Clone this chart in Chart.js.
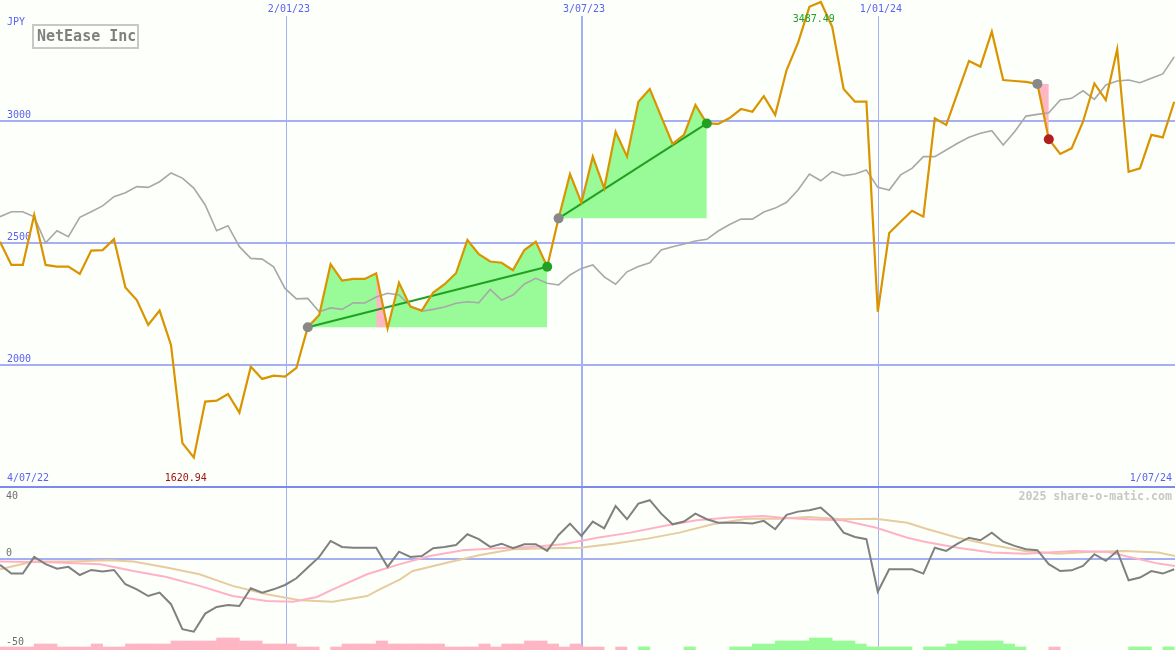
<!DOCTYPE html>
<html><head><meta charset="utf-8">
<script src="https://cdn.jsdelivr.net/npm/chart.js@4.4.1/dist/chart.umd.min.js"></script>
<style>
html,body{margin:0;padding:0;background:#fdfffa;}
#wrap{position:relative;width:1175px;height:650px;overflow:hidden;background:#fdfffa;font-family:'DejaVu Sans Mono',monospace;}
#topc{position:absolute;left:0;top:0;}
#botc{position:absolute;left:0;top:487px;}
.t{position:absolute;font-size:10px;line-height:12px;white-space:nowrap;color:#5b63ee;}
#sep{position:absolute;left:0;top:486px;width:1175px;height:2px;background:#7b8aec;}
#name{position:absolute;left:32px;top:24px;width:107px;height:25px;box-sizing:border-box;border:2px solid #c8c8c8;color:#808080;font-size:15px;font-weight:bold;line-height:21px;padding-left:3px;white-space:nowrap;}
#wm{position:absolute;right:3px;top:489px;font-size:11.6px;line-height:14px;font-weight:bold;color:#c8c8c8;white-space:nowrap;}
.g{color:#6e6e6e;}
</style></head>
<body>
<div id="wrap">
<canvas id="topc" width="1175" height="487"></canvas>
<canvas id="botc" width="1175" height="163"></canvas>
<div id="sep"></div>
<div class="t" style="left:7px;top:16px;">JPY</div>
<div id="name">NetEase Inc</div>
<div class="t" style="left:7px;top:472px;">4/07/22</div>
<div class="t" style="right:3px;top:472px;">1/07/24</div>
<div id="wm">2025 share-o-matic.com</div>
<div class="t g" style="left:6px;top:490px;">40</div>
<div class="t g" style="left:6px;top:547px;">0</div>
<div class="t g" style="left:6px;top:636px;">-50</div>
</div>
<script>
// ---- data (weekly points, x = week index) ----
const priceValues = [2505,2410,2410,2615,2410,2403,2403,2373,2469,2471,
 2516,2318,2266,2164,2223,2082,1680,1620.94,1850,1854,
 1881,1805,1993,1943,1956,1952,1988,2155,2205,2413,
 2346,2353,2353,2376,2150,2337,2239,2223,2297,2331,
 2376,2512,2454,2424,2419,2389,2471,2505,2403,2601,
 2783,2665,2854,2724,2956,2854,3079,3131,3018,2906,
 2943,3066,2990,2988,3012,3049,3038,3102,3025,3209,
 3320,3468,3487.49,3386,3131,3079,3079,2218,2541,2587,
 2632,2608,3011,2984,3115,3246,3223,3366,3168,3164,
 3160,3152,2925,2865,2888,2997,3154,3086,3294,2792,
 2806,2943,2933,3079];
const avgValues = [2608,2628,2628,2607,2501,2550,2526,2605,2628,2652,
 2690,2706,2731,2728,2751,2787,2766,2725,2656,2550,
 2571,2485,2437,2434,2402,2314,2271,2273,2218,2234,
 2228,2255,2254,2279,2294,2287,2242,2221,2228,2238,
 2253,2259,2255,2310,2266,2287,2332,2355,2335,2328,
 2369,2396,2410,2361,2331,2382,2404,2419,2471,2485,
 2496,2508,2515,2549,2576,2598,2598,2627,2643,2667,
 2717,2783,2755,2792,2776,2783,2799,2728,2717,2779,
 2806,2854,2854,2881,2909,2933,2950,2960,2902,2956,
 3020,3027,3034,3086,3093,3124,3089,3148,3164,3168,
 3157,3175,3193,3263];
const trendStarts = [27, 49, 91];
const trendEnds   = [48, 62, 92];
const oscValues = [-3.0,-7.8,-7.8,1.4,-2.6,-5.1,-4.1,-8.6,-5.8,-6.7,
 -5.8,-13.7,-16.5,-20.2,-18.3,-24.7,-38.5,-39.9,-29.9,-26.2,
 -25.1,-25.7,-15.9,-18.3,-16.5,-14.1,-10.4,-4.5,1.4,10.2,
 6.9,6.5,6.5,6.5,-4.1,4.3,1.4,1.9,6.2,6.9,
 8.0,13.9,11.2,6.9,8.7,6.2,8.4,8.4,4.7,13.5,
 19.8,13.0,20.9,17.2,29.5,22.2,30.8,32.7,25.3,19.4,
 20.9,25.3,22.2,20.3,20.3,20.3,19.8,21.3,16.7,24.6,
 26.4,27.2,28.6,23.1,14.8,12.4,11.2,-17.8,-5.4,-5.4,
 -5.4,-7.8,6.5,4.7,8.7,12.0,10.6,14.8,9.8,7.5,
 5.6,5.1,-2.6,-6.4,-6.0,-3.6,2.9,-0.8,4.7,-11.5,
 -10.0,-6.4,-7.8,-5.4];
const pinkMaX = [0,4.4,8.8,11.7,14.6,17.5,20.4,23.4,25.7,27.8,29.2,32.2,33.6,35.1,37.7,40.6,43.6,46.5,49.4,52.4,55.3,58.2,61.1,64,66.9,68.4,70.9,73.9,76.8,79.6,81.1,84,87,89.9,94.3,97.2,98.7,101.6,103.07];
const pinkMaY = [-1.2,-1.5,-2.6,-6.4,-9.7,-14.6,-20.2,-22.9,-23.3,-20.7,-16.5,-8.2,-5.4,-2.6,1.9,5.1,6.2,6.9,8.4,12.0,14.8,18.5,21.6,23.1,24.0,23.1,22.2,21.6,17.6,12.0,9.8,6.5,3.8,3.2,4.7,4.1,1.9,-2.3,-3.6];
const tanMaX = [0,2.9,5.9,9.6,11.7,14.6,17.5,20.4,23.4,26.3,29.2,32.2,33.3,35.1,36.2,39.2,42.1,45,48,50.9,53.8,56.8,59.6,62.5,65.5,68.4,70.9,73.9,76.8,79.6,81.1,84,87,89.9,92.8,95.8,98.7,101.6,103.07];
const tanMaY = [-5.4,-1.2,-1.2,-0.4,-1.2,-4.5,-8.2,-14.6,-19.2,-22.5,-23.3,-20.2,-16.5,-11.0,-6.4,-1.8,2.5,5.6,6.2,6.5,8.7,11.5,14.8,19.4,22.5,22.5,23.5,22.2,22.5,20.3,17.2,12.0,8.0,4.7,3.2,4.3,4.7,3.8,1.9];
const histValues = [-1.66,-1.66,-1.66,-3.32,-3.32,-1.66,-1.66,-1.66,-3.32,-1.66,
 -1.66,-3.32,-3.32,-3.32,-3.32,-4.98,-4.98,-4.98,-4.98,-6.64,
 -6.64,-4.98,-4.98,-3.32,-3.32,-3.32,-1.66,-1.66,0,-1.66,
 -3.32,-3.32,-3.32,-4.98,-3.32,-3.32,-3.32,-3.32,-3.32,-1.66,
 -1.66,-1.66,-3.32,-1.66,-3.32,-3.32,-4.98,-4.98,-3.32,-1.66,
 -3.32,-1.66,-1.66,0,-1.66,0,1.66,0,0,0,
 1.66,0,0,0,1.66,1.66,3.32,3.32,4.98,4.98,
 4.98,6.64,6.64,4.98,4.98,3.32,1.66,1.66,1.66,1.66,
 0,1.66,1.66,3.32,4.98,4.98,4.98,4.98,3.32,1.66,
 0,0,-1.66,0,0,0,0,0,0,1.66,
 1.66,0,1.66,0];
const xTickPos = [25.17, 51.05, 77.1];
const xTickLabels = ['2/01/23', '3/07/23', '1/01/24'];
const xTickWidths = [1, 2, 1];
const priceTicks = [2000, 2500, 3000];
const xRange = [0, 103.07];
const priceRange = [1500, 3430.3];
const oscRange = [-50, 40];

// ---- colours ----
const C = {
  price:'#d99400', avg:'#a8a8a8', green:'#98fb98', pink:'#ffb6c4', trend:'#22a022',
  startDot:'#888888', upDot:'#22a022', downDot:'#b01e1e',
  grid:'#a4aff4', axisText:'#5b63ee', osc:'#808080', pinkMa:'#ffb2c6', tanMa:'#e6cc9e'
};
const FONT = "'DejaVu Sans Mono', monospace";
const noPad = (a) => { a.paddingTop = 0; a.paddingBottom = 0; a.paddingLeft = 0; a.paddingRight = 0; };

// ---- top chart datasets ----
const pts = (arr) => arr.map((v, i) => ({x: i, y: v}));
const topSets = [];
trendStarts.forEach((s, k) => {
  const e = trendEnds[k];
  const base = priceValues[s];
  const up = priceValues[e] >= base;
  const seg = [];
  for (let i = s; i <= e; i++) seg.push({x: i, y: priceValues[i]});
  topSets.push({type:'line', data: seg, borderWidth:0, pointRadius:0, fill:{value: base},
    backgroundColor: up ? C.green : C.pink, order: 8});
  if (up) {
    for (let i = s; i < e; i++) {
      if (priceValues[i + 1] < base) {
        topSets.push({type:'line', data:[{x:i, y:priceValues[i]}, {x:i+1, y:priceValues[i+1]}],
          borderWidth:0, pointRadius:0, fill:{value: base}, backgroundColor: C.pink, order: 7});
      }
    }
    topSets.push({type:'line', data:[{x:s, y:base}, {x:e, y:priceValues[e]}],
      borderColor: C.trend, borderWidth: 2, pointRadius: 0, fill:false, order: 3});
  }
});
topSets.push({type:'line', data: pts(avgValues), borderColor: C.avg, borderWidth: 1.6, pointRadius: 0, fill:false, order: 4});
topSets.push({type:'line', data: pts(priceValues), borderColor: C.price, borderWidth: 2.2, pointRadius: 0, fill:false, order: 2, clip:false});
const dotData = [], dotColors = [];
trendStarts.forEach((s, k) => {
  const e = trendEnds[k];
  dotData.push({x:s, y:priceValues[s]}); dotColors.push(C.startDot);
  dotData.push({x:e, y:priceValues[e]}); dotColors.push(priceValues[e] >= priceValues[s] ? C.upDot : C.downDot);
});
topSets.push({type:'line', data: dotData, showLine:false, pointRadius:5, pointBorderWidth:0,
  pointBackgroundColor: dotColors, pointBorderColor: dotColors, order: 1});

const extremeLabels = {
  id:'extremeLabels',
  afterDraw(chart) {
    const {ctx, scales:{x, y}, chartArea} = chart;
    let iMax = 0, iMin = 0;
    priceValues.forEach((v, i) => { if (v > priceValues[iMax]) iMax = i; if (v < priceValues[iMin]) iMin = i; });
    ctx.save();
    ctx.font = '10px ' + FONT;
    ctx.textAlign = 'center'; ctx.textBaseline = 'middle';
    ctx.fillStyle = '#22a022';
    ctx.fillText(priceValues[iMax].toFixed(2), x.getPixelForValue(iMax) - 7, y.getPixelForValue(priceValues[iMax]) + 17);
    ctx.fillStyle = '#a01414';
    ctx.fillText(priceValues[iMin].toFixed(2), x.getPixelForValue(iMin) - 8, chartArea.bottom - 9);
    ctx.restore();
  }
};

const xAxis = (showLabels) => ({
  type:'linear', min:xRange[0], max:xRange[1], position: showLabels ? 'top' : 'bottom', offset:false,
  afterBuildTicks: (a) => { a.ticks = xTickPos.map(v => ({value: v})); },
  afterFit: (a) => { a.height = showLabels ? 16 : 0; noPad(a); },
  border:{display:false},
  grid:{color:C.grid, lineWidth:(c) => xTickWidths[c.index] || 1, drawTicks:false, offset:false},
  ticks:{display: showLabels, maxRotation:0, autoSkip:false, padding:1, labelOffset:2,
    font:{family:FONT, size:10}, color:C.axisText,
    callback:(v, i) => xTickLabels[i]}
});

new Chart(document.getElementById('topc'), {
  data:{datasets: topSets},
  options:{
    responsive:false, animation:false, events:[], devicePixelRatio:1,
    layout:{padding:0, autoPadding:false},
    plugins:{legend:{display:false}, tooltip:{enabled:false}},
    elements:{line:{tension:0}},
    scales:{
      x: xAxis(true),
      y:{type:'linear', min:priceRange[0], max:priceRange[1],
        afterBuildTicks:(a) => { a.ticks = priceTicks.map(v => ({value:v})); },
        afterFit:(a) => { a.width = 0; noPad(a); },
        border:{display:false},
        grid:{color:C.grid, lineWidth:2, drawTicks:false},
        ticks:{mirror:true, padding:7, labelOffset:-6, font:{family:FONT, size:10}, color:C.axisText,
          callback:(v) => String(v)}}
    }
  },
  plugins:[extremeLabels]
});

// ---- bottom chart ----
const histData = [], histColors = [];
histValues.forEach((v, i) => {
  if (v !== 0) { histData.push({x: i + 0.5, y: [oscRange[0], oscRange[0] + Math.abs(v)]}); histColors.push(v > 0 ? C.green : C.pink); }
});
new Chart(document.getElementById('botc'), {
  data:{datasets:[
    {type:'bar', data: histData, backgroundColor: histColors, borderWidth:0, barPercentage:1, categoryPercentage:1, grouped:false, order:5},
    {type:'line', data: tanMaX.map((x, i) => ({x, y: tanMaY[i]})), borderColor:C.tanMa, borderWidth:2, pointRadius:0, order:4},
    {type:'line', data: pinkMaX.map((x, i) => ({x, y: pinkMaY[i]})), borderColor:C.pinkMa, borderWidth:2, pointRadius:0, order:3},
    {type:'line', data: pts(oscValues), borderColor:C.osc, borderWidth:2, pointRadius:0, order:2}
  ]},
  options:{
    responsive:false, animation:false, events:[], devicePixelRatio:1,
    layout:{padding:0, autoPadding:false},
    plugins:{legend:{display:false}, tooltip:{enabled:false}},
    elements:{line:{tension:0}},
    scales:{
      x: xAxis(false),
      y:{type:'linear', min:oscRange[0], max:oscRange[1],
        afterBuildTicks:(a) => { a.ticks = [{value:0}]; },
        afterFit:(a) => { a.width = 0; noPad(a); },
        border:{display:false},
        grid:{color:C.grid, lineWidth:2, drawTicks:false},
        ticks:{display:false}}
    }
  }
});
</script>
</body></html>
